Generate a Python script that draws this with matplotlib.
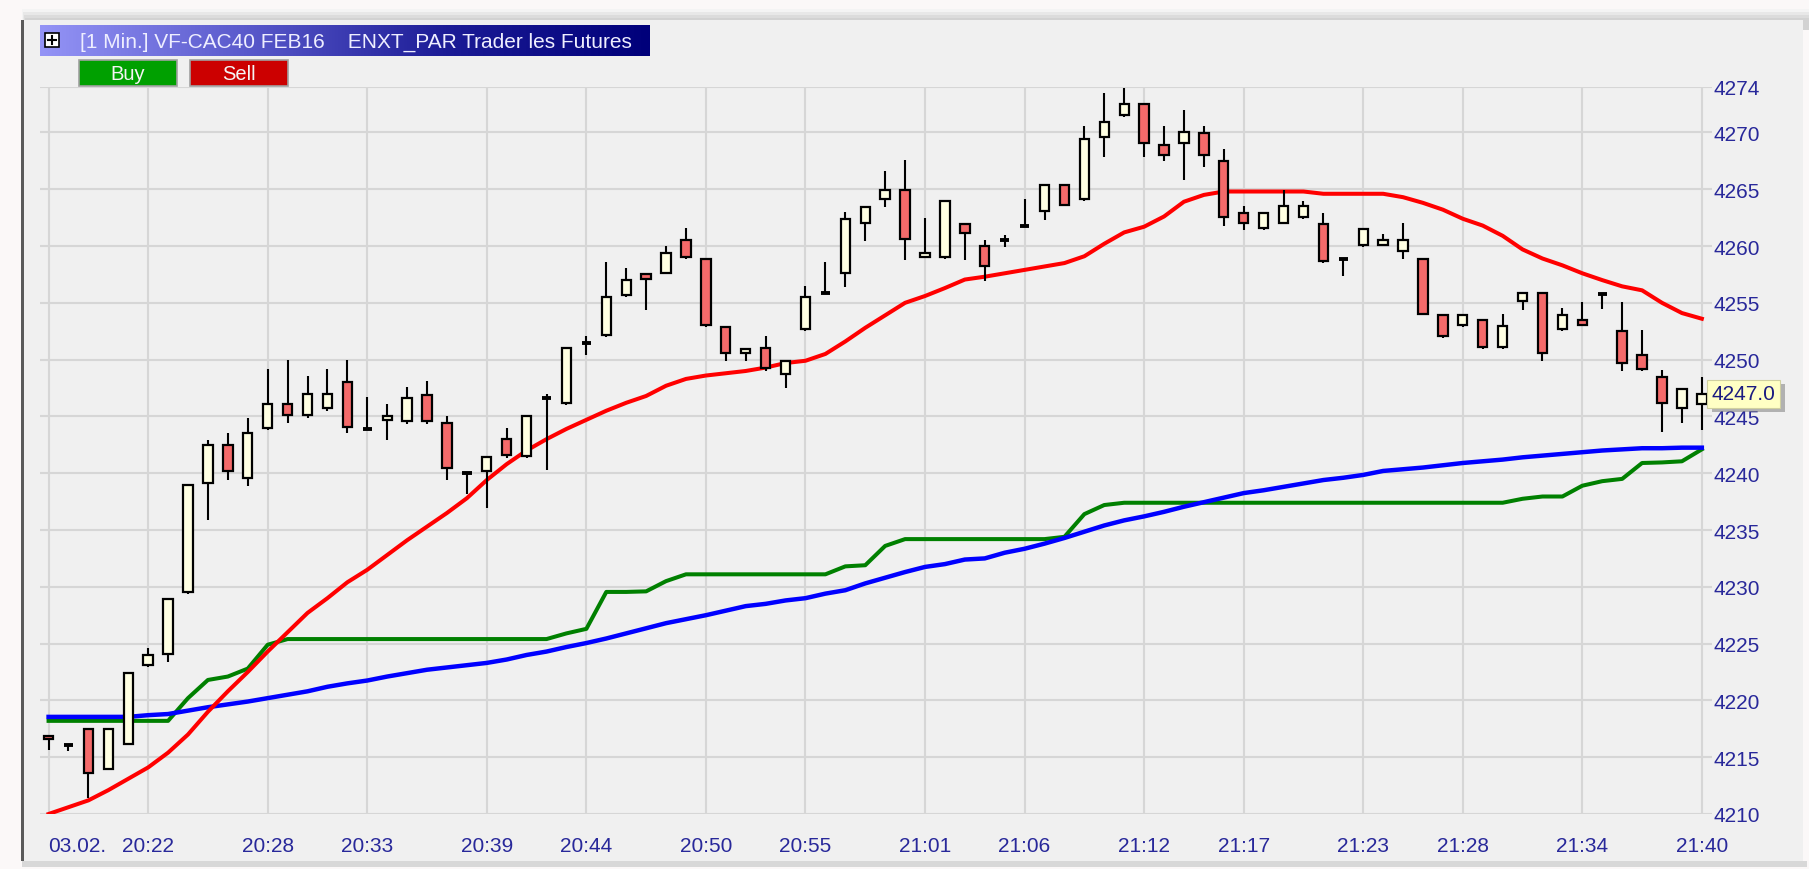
import matplotlib
matplotlib.use("Agg")
import matplotlib.pyplot as plt
import numpy as np
from matplotlib.patches import Rectangle
from matplotlib.colors import LinearSegmentedColormap
import matplotlib.patheffects as pe

plt.rcParams['font.family'] = ['Liberation Sans', 'DejaVu Sans']

# 1-minute bars, 20:17 .. 21:40
opens = [4216.9, 4216.05, 4217.45, 4214.0, 4216.2, 4223.1, 4224.1, 4229.5, 4239.1, 4242.45,
         4239.6, 4244.0, 4246.1, 4245.1, 4245.7, 4248.0, 4243.9, 4244.7, 4244.6, 4246.9,
         4244.4, 4240.0, 4240.2, 4243.0, 4241.5, 4246.6, 4246.2, 4251.5, 4252.2, 4255.7,
         4257.5, 4257.65, 4260.5, 4258.9, 4252.9, 4250.6, 4251.0, 4248.7, 4252.7, 4255.9,
         4257.65, 4262.05, 4264.15, 4264.9, 4259.05, 4259.05, 4261.9, 4260.0, 4260.5, 4261.8,
         4263.05, 4265.4, 4264.15, 4269.6, 4271.5, 4272.5, 4268.9, 4269.05, 4269.95, 4267.5,
         4262.9, 4261.6, 4262.05, 4262.55, 4261.9, 4258.85, 4260.1, 4260.1, 4259.6, 4258.9,
         4253.95, 4253.05, 4253.45, 4251.1, 4255.2, 4255.9, 4252.7, 4253.45, 4255.8, 4252.5,
         4250.45, 4248.5, 4245.7, 4246.1]
highs = [4216.9, 4216.05, 4217.45, 4217.45, 4222.4, 4224.6, 4228.95, 4238.95, 4242.95, 4243.5,
         4244.9, 4249.15, 4250.0, 4248.6, 4249.15, 4250.0, 4246.7, 4246.1, 4247.6, 4248.1,
         4245.0, 4240.0, 4241.4, 4243.95, 4245.0, 4246.95, 4251.0, 4252.1, 4258.6, 4258.1,
         4257.5, 4260.0, 4261.6, 4258.9, 4252.9, 4251.0, 4252.1, 4249.9, 4256.5, 4258.6,
         4263.0, 4263.45, 4266.6, 4267.6, 4262.5, 4264.0, 4261.9, 4260.5, 4261.0, 4264.1,
         4265.4, 4265.4, 4270.6, 4273.5, 4273.9, 4272.5, 4270.6, 4272.0, 4270.6, 4268.5,
         4263.5, 4262.9, 4264.9, 4264.0, 4262.95, 4258.85, 4261.5, 4261.1, 4262.0, 4258.9,
         4253.95, 4253.95, 4253.45, 4254.0, 4255.9, 4255.9, 4254.55, 4255.05, 4255.8, 4255.05,
         4252.6, 4249.05, 4247.45, 4248.5]
lows = [4215.6, 4215.55, 4211.45, 4213.9, 4216.05, 4222.95, 4223.4, 4229.4, 4235.9, 4239.4,
        4238.9, 4243.8, 4244.4, 4244.9, 4245.45, 4243.5, 4243.8, 4242.9, 4244.35, 4244.35,
        4239.4, 4238.2, 4236.9, 4241.3, 4241.3, 4240.25, 4246.0, 4250.4, 4252.0, 4255.5,
        4254.4, 4257.5, 4258.9, 4252.9, 4249.9, 4249.9, 4249.0, 4247.5, 4252.5, 4255.9,
        4256.4, 4260.4, 4263.45, 4258.8, 4259.05, 4258.9, 4258.8, 4256.9, 4259.9, 4261.7,
        4262.3, 4263.5, 4263.95, 4267.8, 4271.35, 4267.8, 4267.45, 4265.8, 4266.95, 4261.8,
        4261.45, 4261.45, 4262.0, 4262.4, 4258.5, 4257.4, 4259.9, 4260.0, 4258.9, 4253.95,
        4251.9, 4252.9, 4250.95, 4250.95, 4254.4, 4249.9, 4252.5, 4253.05, 4254.5, 4249.0,
        4249.0, 4243.6, 4244.45, 4243.8]
closes = [4216.6, 4216.05, 4213.6, 4217.45, 4222.4, 4224.0, 4228.95, 4238.95, 4242.45, 4240.2,
          4243.5, 4246.1, 4245.15, 4247.0, 4247.0, 4244.05, 4243.9, 4245.05, 4246.6, 4244.6,
          4240.5, 4240.0, 4241.4, 4241.6, 4245.0, 4246.6, 4251.0, 4251.5, 4255.5, 4257.0,
          4257.1, 4259.4, 4259.05, 4253.05, 4250.6, 4250.95, 4249.3, 4249.9, 4255.5, 4255.9,
          4262.4, 4263.45, 4264.9, 4260.6, 4259.4, 4264.0, 4261.15, 4258.2, 4260.5, 4261.8,
          4265.4, 4263.65, 4269.45, 4270.9, 4272.5, 4269.1, 4268.0, 4270.0, 4268.0, 4262.55,
          4262.05, 4262.9, 4263.5, 4263.5, 4258.65, 4258.85, 4261.5, 4260.5, 4260.5, 4254.05,
          4252.1, 4253.95, 4251.1, 4252.95, 4255.9, 4250.6, 4253.95, 4253.05, 4255.8, 4249.7,
          4249.2, 4246.2, 4247.45, 4247.0]

red_line = [4210.0, 4210.6, 4211.2, 4212.1, 4213.1, 4214.1, 4215.4, 4217.0, 4219.0, 4220.8,
            4222.5, 4224.3, 4226.0, 4227.7, 4229.0, 4230.4, 4231.5, 4232.8, 4234.1, 4235.3,
            4236.5, 4237.8, 4239.4, 4240.8, 4242.0, 4243.0, 4243.9, 4244.7, 4245.5, 4246.2,
            4246.8, 4247.7, 4248.3, 4248.6, 4248.8, 4249.0, 4249.3, 4249.7, 4249.9, 4250.5,
            4251.6, 4252.8, 4253.9, 4255.0, 4255.6, 4256.3, 4257.05, 4257.3, 4257.6, 4257.9,
            4258.2, 4258.5, 4259.1, 4260.2, 4261.2, 4261.7, 4262.6, 4263.9, 4264.5, 4264.8,
            4264.8, 4264.8, 4264.8, 4264.8, 4264.6, 4264.6, 4264.6, 4264.6, 4264.3, 4263.8,
            4263.2, 4262.4, 4261.8, 4260.9, 4259.7, 4258.9, 4258.3, 4257.6, 4257.0, 4256.45,
            4256.1, 4255.0, 4254.1, 4253.6]
blue_line = [4218.55, 4218.55, 4218.55, 4218.55, 4218.55, 4218.7, 4218.8, 4219.1, 4219.4, 4219.65,
             4219.9, 4220.2, 4220.5, 4220.8, 4221.2, 4221.5, 4221.75, 4222.1, 4222.4, 4222.7,
             4222.9, 4223.1, 4223.3, 4223.6, 4224.0, 4224.3, 4224.7, 4225.05, 4225.45, 4225.9,
             4226.35, 4226.8, 4227.15, 4227.5, 4227.9, 4228.3, 4228.5, 4228.8, 4229.0, 4229.4,
             4229.7, 4230.3, 4230.8, 4231.3, 4231.75, 4232.0, 4232.4, 4232.5, 4233.0, 4233.35,
             4233.8, 4234.3, 4234.85, 4235.4, 4235.85, 4236.2, 4236.6, 4237.05, 4237.45, 4237.85,
             4238.25, 4238.5, 4238.8, 4239.1, 4239.4, 4239.6, 4239.85, 4240.2, 4240.35, 4240.5,
             4240.7, 4240.9, 4241.05, 4241.2, 4241.4, 4241.55, 4241.7, 4241.85, 4242.0, 4242.1,
             4242.2, 4242.2, 4242.25, 4242.25]
green_line = [4218.2, 4218.2, 4218.2, 4218.2, 4218.2, 4218.2, 4218.2, 4220.2, 4221.8, 4222.1,
              4222.8, 4224.9, 4225.4, 4225.4, 4225.4, 4225.4, 4225.4, 4225.4, 4225.4, 4225.4,
              4225.4, 4225.4, 4225.4, 4225.4, 4225.4, 4225.4, 4225.9, 4226.3, 4229.55, 4229.55,
              4229.6, 4230.5, 4231.1, 4231.1, 4231.1, 4231.1, 4231.1, 4231.1, 4231.1, 4231.1,
              4231.8, 4231.9, 4233.6, 4234.2, 4234.2, 4234.2, 4234.2, 4234.2, 4234.2, 4234.2,
              4234.2, 4234.4, 4236.4, 4237.2, 4237.4, 4237.4, 4237.4, 4237.4, 4237.4, 4237.4,
              4237.4, 4237.4, 4237.4, 4237.4, 4237.4, 4237.4, 4237.4, 4237.4, 4237.4, 4237.4,
              4237.4, 4237.4, 4237.4, 4237.4, 4237.75, 4237.95, 4237.95, 4238.9, 4239.3, 4239.5,
              4240.9, 4240.95, 4241.05, 4242.1]

time_tick_pos = [0, 5, 11, 16, 22, 27, 33, 38, 44, 49, 55, 60, 66, 71, 77, 83]
time_tick_labels = ['03.02.', '20:22', '20:28', '20:33', '20:39', '20:44', '20:50', '20:55',
                    '21:01', '21:06', '21:12', '21:17', '21:23', '21:28', '21:34', '21:40']
price_ticks = [4210, 4215, 4220, 4225, 4230, 4235, 4240, 4245, 4250, 4255, 4260, 4265, 4270, 4274]

W, H = 1809, 870
fig = plt.figure(figsize=(W / 100, H / 100), dpi=100)
fig.patch.set_facecolor('#fbf8f8')

# background / window frame (pixel coordinates)
bg = fig.add_axes([0, 0, 1, 1], zorder=0)
bg.set_xlim(0, W)
bg.set_ylim(H, 0)
bg.axis('off')
for k, c in enumerate(['#f4f4f4', '#e8e8e8', '#dcdcdc', '#d2d2d2']):
    bg.add_patch(Rectangle((22 + k, 10 + 3 * k), W - 22, 12, color=c, lw=0))
bg.add_patch(Rectangle((22, 862), 1785, 6, color='#d8d8d8', lw=0))
bg.add_patch(Rectangle((22, 21), 1781, 841, color='#f0f0f0', lw=0))
bg.add_patch(Rectangle((21, 21), 3, 841, color='#5a5a5a', lw=0))

# main chart
ax = fig.add_axes([40 / W, 1 - 815 / H, (1712 - 40) / W, (815 - 88) / H], zorder=1)
ax.set_facecolor('#f0f0f0')
idx = np.arange(len(closes))

ax.plot(idx, green_line, color='#008000', lw=2.9, zorder=3)
ax.plot(idx, blue_line, color='#0000ff', lw=3.2, zorder=3)
ax.plot(idx, red_line, color='#ff0000', lw=2.9, zorder=3)

w = 0.47
for i in idx:
    o, h, l, c = opens[i], highs[i], lows[i], closes[i]
    ax.vlines(i, l, h, color='black', lw=1.5, zorder=4)
    if abs(c - o) < 0.2:
        ax.hlines(o, i - w / 2, i + w / 2, color='black', lw=2.8, zorder=5)
    else:
        fc = '#f46a6a' if c < o else '#ffffe2'
        ax.add_patch(Rectangle((i - w / 2, min(o, c)), w, abs(c - o),
                               facecolor=fc, edgecolor='black', lw=1.6, zorder=5))

ax.set_xlim(-0.43, 83.51)
ax.set_ylim(4210, 4274)
ax.set_xticks(time_tick_pos, time_tick_labels)
ax.set_yticks(price_ticks)
ax.yaxis.tick_right()
ax.tick_params(axis='both', length=0, labelsize=15, labelcolor='#28289a')
ax.tick_params(axis='x', pad=16)
ax.tick_params(axis='y', pad=1)
ax.get_xticklabels()[0].set_horizontalalignment('left')
ax.grid(True, color='#d6d6d6', lw=1.5, zorder=0)
for s in ax.spines.values():
    s.set_visible(False)

# last price label
lbl = ax.text(1.0, closes[-1], f'{closes[-1]:.1f}', transform=ax.get_yaxis_transform(),
              ha='left', va='center', fontsize=15, color='#1a1a80', clip_on=False, zorder=10,
              bbox=dict(boxstyle='square,pad=0.22', fc='#ffffc4', ec='#d0d0a0', lw=0.8))
lbl.get_bbox_patch().set_path_effects([pe.withSimplePatchShadow(offset=(3, -3), shadow_rgbFace='#888888', alpha=0.6)])

# title bar and buttons
top = fig.add_axes([0, 0, 1, 1], zorder=2)
top.set_xlim(0, W)
top.set_ylim(H, 0)
top.axis('off')
top.patch.set_alpha(0)
grad = np.linspace(0, 1, 256).reshape(1, -1)
cmap = LinearSegmentedColormap.from_list('tb', ['#9494f6', '#5a5acc', '#1c1c96', '#00007a'])
top.imshow(grad, cmap=cmap, extent=[40, 650, 57, 26], aspect='auto', zorder=1)
top.add_patch(Rectangle((45, 34), 14, 14, facecolor='white', edgecolor='black', lw=1.2, zorder=2))
top.plot([48, 56], [41, 41], color='black', lw=1.5, zorder=3)
top.plot([52, 52], [37, 45], color='black', lw=1.5, zorder=3)
top.text(80, 42, '[1 Min.] VF-CAC40 FEB16    ENXT_PAR Trader les Futures', color='#eeeeff',
         fontsize=15, va='center', ha='left', zorder=3)

for x0, fc, txt in [(79, '#00a000', 'Buy'), (190, '#cc0000', 'Sell')]:
    top.add_patch(Rectangle((x0, 61), 98, 26, facecolor=fc, edgecolor='#a0a0a0', lw=1.2, zorder=2))
    top.text(x0 + 49, 74.5, txt, color='#f4f4f4', fontsize=14.5, ha='center', va='center', zorder=3)

fig.savefig('out.png', dpi=100, facecolor=fig.get_facecolor())
